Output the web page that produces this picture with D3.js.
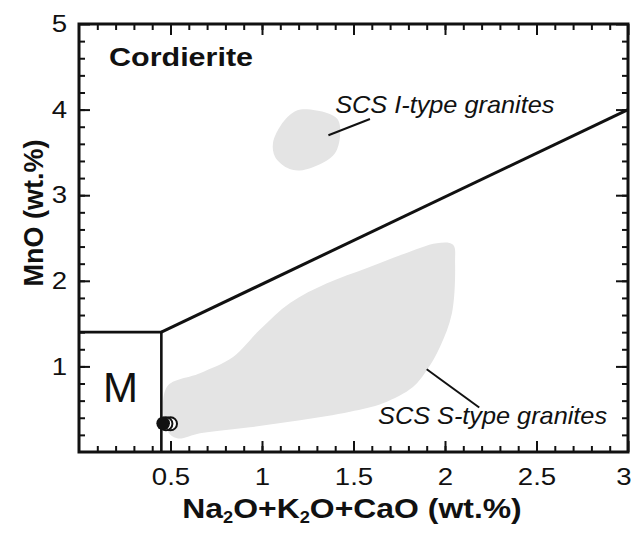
<!doctype html>
<html lang="en">
  <head>
    <meta charset="UTF-8" />
    <script src="https://d3js.org/d3.v7.min.js"></script>
  </head>
  <body>
    <svg id="chart" width="633" height="534" style="position: absolute; left: 0; top: 0; background: #fff"></svg>

    <script>
      // axis ticks
      const xTicks = [0.5, 1, 1.5, 2, 2.5, 3]
      const yTicks = [1, 2, 3, 4, 5]

      // field boundaries (x, y)
      const mBox = [[0, 1.4], [0.45, 1.4], [0.45, 0]]
      const divider = [[0.45, 1.4], [3, 4.0]]

      // grey compositional fields
      const iTypeField = [
        [1.21, 4.0], [1.355, 3.96], [1.415, 3.88], [1.426, 3.68], [1.399, 3.49],
        [1.333, 3.38], [1.208, 3.29], [1.137, 3.32], [1.071, 3.45], [1.06, 3.61],
        [1.098, 3.8], [1.153, 3.94]
      ]
      const sTypeField = [
        [0.48, 0.76], [0.661, 0.92], [0.842, 1.11], [0.989, 1.43], [1.153, 1.74],
        [1.355, 1.97], [1.574, 2.15], [1.77, 2.31], [1.956, 2.44], [2.044, 2.42],
        [2.055, 2.21], [2.038, 1.62], [1.973, 1.23], [1.902, 0.96], [1.825, 0.76],
        [1.661, 0.57], [1.481, 0.47], [1.208, 0.37], [0.934, 0.29], [0.661, 0.22],
        [0.536, 0.16], [0.48, 0.26]
      ]

      // analysed cordierites
      const openSamples = [[0.5, 0.33], [0.475, 0.33]]
      const filledSamples = [[0.46, 0.335]]

      const svg = d3.select('#chart')
      const margin = { top: 24, right: 5, bottom: 82, left: 79 }
      const w = +svg.attr('width') - margin.left - margin.right
      const h = +svg.attr('height') - margin.top - margin.bottom

      const x = d3.scaleLinear().domain([0, 3]).range([0, w])
      const y = d3.scaleLinear().domain([0, 5]).range([h, 0])

      const g = svg.append('g').attr('transform', `translate(${margin.left},${margin.top})`)

      const path = d3.line().x((d) => x(d[0])).y((d) => y(d[1]))
      const blob = d3.line().x((d) => x(d[0])).y((d) => y(d[1])).curve(d3.curveCatmullRomClosed)

      // grey fields
      g.selectAll('.field')
        .data([iTypeField, sTypeField])
        .enter()
        .append('path')
        .attr('class', 'field')
        .attr('d', blob)
        .attr('fill', '#e4e4e4')

      // boundaries
      g.append('path').attr('d', path(mBox)).attr('fill', 'none').attr('stroke', '#111').attr('stroke-width', 2.6)
      g.append('path').attr('d', path(divider)).attr('fill', 'none').attr('stroke', '#111').attr('stroke-width', 3)

      // leader lines
      const leaders = [
        [[1.363, 3.7], [1.59, 3.89]],
        [[1.9, 0.966], [2.187, 0.52]]
      ]
      g.selectAll('.leader')
        .data(leaders)
        .enter()
        .append('path')
        .attr('class', 'leader')
        .attr('d', (d) => path(d))
        .attr('fill', 'none')
        .attr('stroke', '#111')
        .attr('stroke-width', 2)

      // samples
      g.selectAll('.open')
        .data(openSamples)
        .enter()
        .append('circle')
        .attr('class', 'open')
        .attr('cx', (d) => x(d[0]))
        .attr('cy', (d) => y(d[1]))
        .attr('r', 6.5)
        .attr('fill', '#fff')
        .attr('stroke', '#111')
        .attr('stroke-width', 2)
      g.selectAll('.filled')
        .data(filledSamples)
        .enter()
        .append('circle')
        .attr('class', 'filled')
        .attr('cx', (d) => x(d[0]))
        .attr('cy', (d) => y(d[1]))
        .attr('r', 6.8)
        .attr('fill', '#111')

      // ticks, pointing inwards on all four sides
      const sx = 1.15
      const minorX = d3.range(1, 30).map((i) => i / 10)
      const minorY = d3.range(1, 25).map((i) => i / 5)

      function axis(gen, pos, values, size, labels) {
        gen.tickValues(values).tickSizeInner(-size).tickPadding(labels ? 16 : 0)
        gen.tickFormat(labels ? d3.format('') : () => '')
        const a = g.append('g').attr('transform', pos).call(gen)
        a.select('.domain').remove()
        // tick marks as short paths (plain <line> ticks did not show up in the render)
        a.selectAll('.tick').each(function () {
          const t = d3.select(this)
          const l = t.select('line')
          const x2 = +l.attr('x2') || 0
          const y2 = +l.attr('y2') || 0
          t.insert('path', 'line')
            .attr('d', `M0,0L${x2},${y2}`)
            .attr('fill', 'none')
            .attr('stroke', '#111')
            .attr('stroke-width', 2)
          l.remove()
        })
        a.selectAll('.tick text')
          .attr('fill', '#111')
          .attr('font-size', 24)
          .attr('font-family', "'Liberation Sans', Arial, sans-serif")
        return a
      }

      axis(d3.axisBottom(x), `translate(0,${h})`, minorX, 6, false)
      axis(d3.axisTop(x), 'translate(0,0)', minorX, 6, false)
      axis(d3.axisLeft(y), 'translate(0,0)', minorY, 6, false)
      axis(d3.axisRight(y), `translate(${w},0)`, minorY, 6, false)
      axis(d3.axisTop(x), 'translate(0,0)', xTicks, 11, false)
      axis(d3.axisRight(y), `translate(${w},0)`, yTicks, 12, false)

      const xl = axis(d3.axisBottom(x), `translate(0,${h})`, xTicks, 11, true)
      xl.selectAll('text').attr('transform', `scale(${sx},1)`)
      xl.selectAll('text')
        .filter((d) => d === 3)
        .attr('text-anchor', 'end')
        .attr('x', 3 / sx)

      axis(d3.axisLeft(y), 'translate(0,0)', yTicks, 11, true)
        .selectAll('text')
        .attr('x', -12 / sx)
        .attr('transform', `scale(${sx},1)`)

      // frame
      g.append('rect')
        .attr('width', w)
        .attr('height', h)
        .attr('fill', 'none')
        .attr('stroke', '#111')
        .attr('stroke-width', 3)

      // text helper, the figure's lettering is a bit wider than Arial
      function label(px, py, txt, size, weight, style, stretch, rot) {
        return g.append('text')
          .attr('transform', `translate(${px},${py})${rot ? ' rotate(-90)' : ''} scale(${stretch},1)`)
          .attr('font-family', "'Liberation Sans', Arial, sans-serif")
          .attr('font-size', size)
          .attr('font-weight', weight)
          .attr('font-style', style)
          .attr('fill', '#111')
          .text(txt)
      }

      label(x(0.164), y(4.51), 'Cordierite', 25, 'bold', 'normal', 1.22)
      label(x(0.131), y(0.588), 'M', 42, 'normal', 'normal', 1)
      label(x(1.4), y(3.96), 'SCS I-type granites', 23, 'normal', 'italic', 1.1)
      label(x(1.634), y(0.327), 'SCS S-type granites', 23, 'normal', 'italic', 1.1)

      // axis titles
      label(-36, h / 2 - 25, 'MnO (wt.%)', 27, 'bold', 'normal', 1, true).attr('text-anchor', 'middle')

      const xt = g.append('text')
        .attr('transform', `translate(${(182 + 522) / 2 - margin.left},${h + 66}) scale(1.14,1)`)
        .attr('text-anchor', 'middle')
        .attr('font-family', "'Liberation Sans', Arial, sans-serif")
        .attr('font-size', 28)
        .attr('font-weight', 'bold')
        .attr('fill', '#111')
      const parts = [['Na', 0], ['2', 1], ['O+K', 0], ['2', 1], ['O+CaO (wt.%)', 0]]
      parts.forEach(([t, sub], i) => {
        const prev = i > 0 ? parts[i - 1][1] : 0
        xt.append('tspan')
          .attr('font-size', sub ? 16 : 28)
          .attr('dy', sub ? 5 : prev ? -5 : 0)
          .text(t)
      })
    </script>
  </body>
</html>
